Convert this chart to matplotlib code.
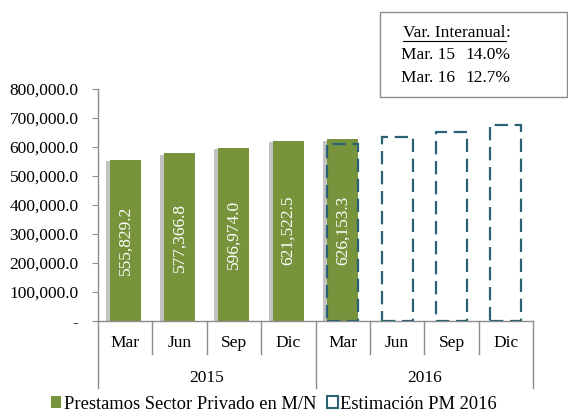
import matplotlib
matplotlib.use("Agg")
import matplotlib.pyplot as plt
import matplotlib.patheffects as pe
from matplotlib.patches import Patch, Rectangle
from matplotlib.lines import Line2D

# ---- data ----
months = ["Mar", "Jun", "Sep", "Dic", "Mar", "Jun", "Sep", "Dic"]
years = ["2015", "2016"]
actual = [555829.2, 577366.8, 596974.0, 621522.5, 626153.3]
actual_labels = ["555,829.2", "577,366.8", "596,974.0", "621,522.5", "626,153.3"]
estimate = [611000, 634000, 650000, 676000]
yticks = [0, 100000, 200000, 300000, 400000, 500000, 600000, 700000, 800000]
yticklabels = ["-", "100,000.0", "200,000.0", "300,000.0", "400,000.0",
               "500,000.0", "600,000.0", "700,000.0", "800,000.0"]
box_title = "Var. Interanual"
box_rows = [("Mar. 15", "14.0%"), ("Mar. 16", "12.7%")]
legend_labels = ["Prestamos Sector Privado en M/N", "Estimación PM 2016"]

GREEN = "#77933c"
TEAL = "#2b6275"
GRAY = "#8c8c8c"
FONT = "Liberation Serif"
FS = 12.5
plt.rcParams["font.family"] = [FONT, "DejaVu Serif"]

W, H = 568, 411
fig = plt.figure(figsize=(W / 100, H / 100), dpi=100)
fx = lambda x: x / W
fy = lambda y: 1 - y / H

left, right, top, bottom = 98, 533, 89, 320.7
ax = fig.add_axes([fx(left), fy(bottom), fx(right) - fx(left), fy(top) - fy(bottom)])
ax.set_xlim(-0.5, len(months) - 0.5)
ax.set_ylim(0, 800000)

bw = 0.57
xa = list(range(len(actual)))
bars = ax.bar(xa, actual, width=bw, color=GREEN, edgecolor="none", zorder=2)
for b in bars:
    b.set_path_effects([pe.SimplePatchShadow(offset=(-3, -1), shadow_rgbFace="#555555", alpha=0.35),
                        pe.Normal()])
xe = list(range(len(actual) - 1, len(actual) - 1 + len(estimate)))
ebars = ax.bar(xe, estimate, width=bw, facecolor="none", edgecolor=TEAL,
               linewidth=1.6, linestyle=(0, (6, 3)), zorder=3)

for x, v, lab in zip(xa, actual, actual_labels):
    ax.text(x, v / 2, lab, rotation=90, ha="center", va="center",
            color="white", fontsize=FS, zorder=4)

# y axis
ax.set_yticks(yticks)
ax.set_yticklabels(yticklabels, fontsize=FS)
ax.tick_params(axis="y", length=4, color=GRAY, pad=10)
ax.set_xticks([])
for s in ["top", "right"]:
    ax.spines[s].set_visible(False)
for s in ["left", "bottom"]:
    ax.spines[s].set_color(GRAY)
    ax.spines[s].set_linewidth(1.0)

# multi-level category axis
axh = bottom - top
yt1 = -(354 - bottom) / axh
yt2 = -(388 - bottom) / axh
for i in range(len(months) + 1):
    xb = i - 0.5
    depth = yt2 if i in (0, 4, 8) else yt1
    ax.plot([xb, xb], [0, depth], transform=ax.get_xaxis_transform(),
            color=GRAY, lw=1.0, clip_on=False)
for i, m in enumerate(months):
    ax.text(i, -(343 - bottom) / axh, m, transform=ax.get_xaxis_transform(),
            ha="center", va="center", fontsize=FS)
for j, yr in enumerate(years):
    ax.text(1.5 + 4 * j, -(378 - bottom) / axh, yr, transform=ax.get_xaxis_transform(),
            ha="center", va="center", fontsize=FS)

# annotation box
fig.patches.append(Rectangle((fx(380), fy(97)), fx(567) - fx(380), fy(12) - fy(97),
                             transform=fig.transFigure, facecolor="white",
                             edgecolor=GRAY, linewidth=1.0))
t = fig.text(fx(403), fy(33), box_title, ha="left", va="center", fontsize=FS)
r = fig.canvas.get_renderer()
bb = t.get_window_extent(renderer=r)
x_end = bb.x1 / (W)
fig.text(x_end, fy(33), ":", ha="left", va="center", fontsize=FS)
fig.add_artist(Line2D([fx(403), x_end], [fy(41.5), fy(41.5)], transform=fig.transFigure,
                      color="black", lw=0.8))
for k, (a, b) in enumerate(box_rows):
    yy = fy(55 + 23 * k)
    fig.text(fx(401), yy, a, ha="left", va="center", fontsize=FS)
    fig.text(fx(510), yy, b, ha="right", va="center", fontsize=FS)

# legend
handles = [Patch(facecolor=GREEN, edgecolor="none"),
           Patch(facecolor="white", edgecolor=TEAL, linestyle="-", linewidth=1.5)]
fig.legend(handles, legend_labels, loc="center", bbox_to_anchor=(fx(274), fy(404)),
           ncol=2, frameon=False, prop={"family": FONT, "size": 13.3},
           handlelength=0.55, handleheight=0.55,
           handletextpad=0.15, columnspacing=0.6, borderpad=0)

fig.savefig("out.png", dpi=100)
